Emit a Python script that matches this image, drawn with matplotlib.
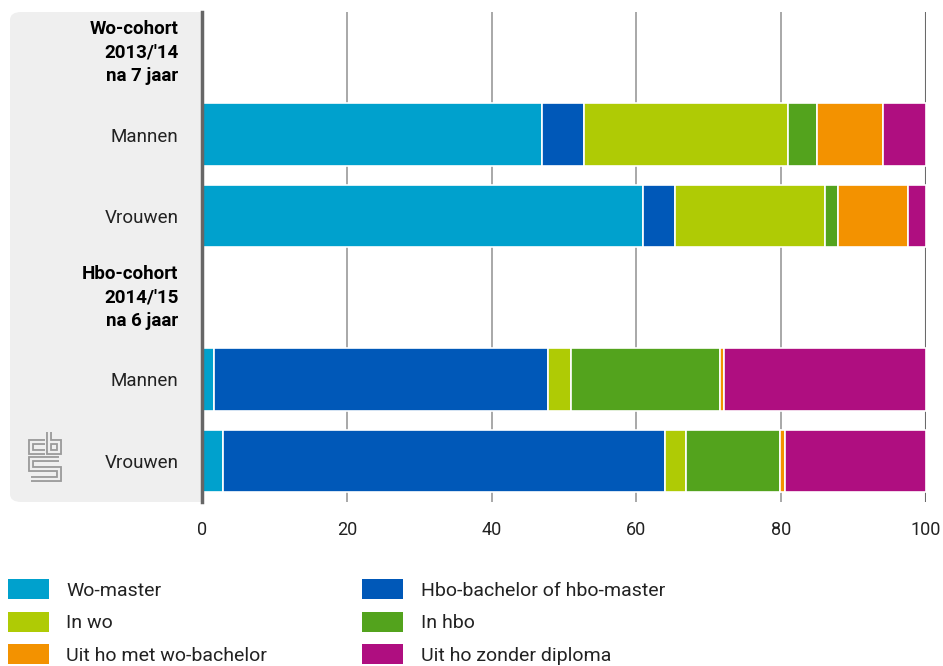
import matplotlib
matplotlib.use("Agg")
import matplotlib.pyplot as plt
from matplotlib.patches import FancyBboxPatch
from matplotlib.lines import Line2D

plt.rcParams['font.family'] = ['Roboto', 'DejaVu Sans']

row_labels = ["Wo-cohort\n2013/'14\nna 7 jaar", "Mannen", "Vrouwen",
              "Hbo-cohort\n2014/'15\nna 6 jaar", "Mannen", "Vrouwen"]
header_rows = [0, 3]
bar_rows = [1, 2, 4, 5]

series_names = ["Wo-master", "Hbo-bachelor of hbo-master", "In wo", "In hbo",
                "Uit ho met wo-bachelor", "Uit ho zonder diploma"]
wo_master = [46.9, 60.9, 1.7, 2.85]
hbo_bachelor = [5.8, 4.4, 46.1, 61.1]
in_wo = [28.3, 20.8, 3.1, 2.95]
in_hbo = [3.9, 1.8, 20.7, 12.9]
uit_wo_bachelor = [9.1, 9.6, 0.5, 0.7]
uit_zonder = [6.0, 2.5, 27.9, 19.5]
series = [wo_master, hbo_bachelor, in_wo, in_hbo, uit_wo_bachelor, uit_zonder]
colors = ["#00a1cd", "#0058b8", "#afcb05", "#53a31d", "#f39200", "#af0e80"]

W, H = 943, 666
fig = plt.figure(figsize=(W / 100, H / 100), dpi=100)

# grey label panel
panel = FancyBboxPatch((10 / W, 1 - 502 / H), 210 / W, 490 / H,
                       boxstyle="round,pad=0,rounding_size=0.012",
                       transform=fig.transFigure, facecolor="#efefef",
                       edgecolor="none", zorder=0)
fig.patches.append(panel)

ax = fig.add_axes([202 / W, 1 - 502 / H, 724 / W, 490 / H])
ax.set_facecolor("white")
ax.set_zorder(1)

left = [0.0] * 4
handles = []
for name, vals, c in zip(series_names, series, colors):
    b = ax.barh(bar_rows, vals, left=left, height=0.76, color=c,
                edgecolor="white", linewidth=1.2, label=name, zorder=3)
    handles.append(b)
    left = [l + v for l, v in zip(left, vals)]

ax.set_xlim(0, 100)
ax.set_ylim(5.5, -0.5)
ax.set_xticks([0, 20, 40, 60, 80, 100])
ax.set_xticklabels(["0", "20", "40", "60", "80", "100"])
ax.tick_params(axis='x', length=0, pad=13.5, labelsize=13, colors="#222222")
for x in [20, 40, 60, 80]:
    ax.axvline(x, color="#9a9a9a", linewidth=1.2, zorder=1)
ax.axvline(100, color="#6a6a6a", linewidth=1.5, zorder=1)
for s in ["top", "right", "bottom"]:
    ax.spines[s].set_visible(False)
ax.spines["left"].set_color("#666666")
ax.spines["left"].set_linewidth(2.5)
ax.spines["left"].set_zorder(5)

ax.set_yticks(bar_rows)
ax.set_yticklabels([row_labels[i] for i in bar_rows])
ax.tick_params(axis='y', length=0, pad=17, labelsize=13.5, colors="#222222")
for i in header_rows:
    ax.annotate(row_labels[i], xy=(0, i), xycoords=("axes fraction", "data"),
                xytext=(-17, 0), textcoords="offset points", ha="right",
                va="center", fontsize=13.5, fontweight="bold", color="#000000",
                linespacing=1.4, annotation_clip=False)

# CBS logo (simple outlined strokes)
def fp(x, y):
    return x / W, 1 - y / H

paths = [
    [(45, 442), (31, 442), (31, 452), (45, 452)],
    [(49, 432), (49, 452), (59, 452), (59, 442), (49, 442)],
    [(59, 459), (31, 459), (31, 469), (59, 469), (59, 479), (31, 479)],
]
for p in paths:
    xs, ys = zip(*[fp(x, y) for x, y in p])
    fig.add_artist(Line2D(xs, ys, transform=fig.transFigure, color="#9a9a9a",
                          linewidth=4.2, solid_joinstyle="miter",
                          solid_capstyle="butt", zorder=2))
    fig.add_artist(Line2D(xs, ys, transform=fig.transFigure, color="#efefef",
                          linewidth=1.6, solid_joinstyle="miter",
                          solid_capstyle="butt", zorder=2))

order = [0, 2, 4, 1, 3, 5]
leg = fig.legend([handles[i] for i in order], [series_names[i] for i in order],
                 ncol=2, loc="upper left", bbox_to_anchor=(8 / W, 1 - 579 / H),
                 frameon=False, fontsize=14, handlelength=2.1, handleheight=1.2,
                 handletextpad=0.9, columnspacing=4.9, labelspacing=0.62,
                 borderpad=0, borderaxespad=0)
for t in leg.get_texts():
    t.set_color("#222222")
for h in leg.legend_handles:
    h.set_edgecolor("none")

fig.savefig("out.png", dpi=100)
